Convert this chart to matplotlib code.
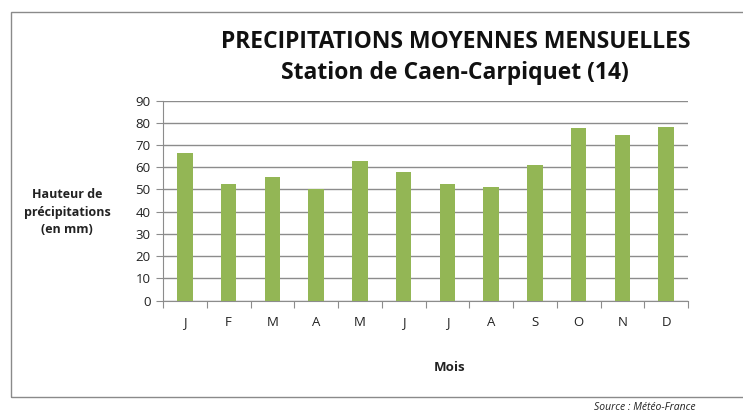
import numpy as np
import matplotlib
matplotlib.use('Agg')
import matplotlib.pyplot as plt
from matplotlib.patches import Rectangle

# monthly mean precipitation, Caen-Carpiquet (mm)
mois = ['J', 'F', 'M', 'A', 'M', 'J', 'J', 'A', 'S', 'O', 'N', 'D']
hauteur = [66.2, 52.3, 55.4, 50.3, 62.7, 57.8, 52.4, 51.1, 60.8, 77.5, 74.7, 78.3]
y_ticks = list(range(0, 100, 10))

W, H = 743, 415
plt.rcParams['font.family'] = ['Open Sans', 'DejaVu Sans']

fig = plt.figure(figsize=(W / 100, H / 100), dpi=100)

def px(x0, y0, x1, y1):
    # pixel box (top-left origin) -> figure fraction
    return [x0 / W, 1 - y1 / H, (x1 - x0) / W, (y1 - y0) / H]

# outer chart frame (right edge runs off the picture)
fig.patches.append(Rectangle((11 / W, 1 - 397 / H), (760 - 11) / W, (397 - 12) / H,
                             transform=fig.transFigure, fill=False,
                             edgecolor='#8a8a8a', linewidth=1.0))

ax = fig.add_axes(px(163, 100.5, 688, 300.5))
x = np.arange(len(mois))
ax.bar(x, hauteur, width=0.35, color='#93b655', zorder=3)

ax.set_xlim(-0.5, len(mois) - 0.5)
ax.set_ylim(0, 90)
ax.set_yticks(y_ticks)
ax.yaxis.grid(True, color='#8c8c8c', linewidth=1.0, zorder=0)
ax.set_axisbelow(True)

for s in ['top', 'right']:
    ax.spines[s].set_visible(False)
ax.spines['left'].set_color('#8c8c8c')
ax.spines['bottom'].set_color('#8c8c8c')

# ticks on category boundaries, labels centered
ax.set_xticks(np.arange(-0.5, len(mois), 1.0))
ax.set_xticklabels([])
ax.set_xticks(x, minor=True)
ax.set_xticklabels(mois, minor=True, fontsize=9.5, color='#222222')
ax.tick_params(axis='x', which='major', length=5, color='#8c8c8c')
ax.tick_params(axis='x', which='minor', length=0, pad=11)
ax.tick_params(axis='y', length=5, color='#8c8c8c', labelsize=9.5, labelcolor='#222222', pad=4)

fig.text(456 / W, 1 - 42 / H, 'PRECIPITATIONS MOYENNES MENSUELLES', ha='center', va='center',
         fontsize=16.5, fontweight='bold', color='#111111')
fig.text(455 / W, 1 - 73 / H, 'Station de Caen-Carpiquet (14)', ha='center', va='center',
         fontsize=16.5, fontweight='bold', color='#111111')

fig.text(67 / W, 1 - 212 / H, 'Hauteur de\nprécipitations\n(en mm)', ha='center', va='center',
         fontsize=9, fontweight='bold', linespacing=1.45, color='#222222')
fig.text(450 / W, 1 - 367 / H, 'Mois', ha='center', va='center',
         fontsize=9.5, fontweight='bold', color='#222222')
fig.text(695 / W, 1 - 407 / H, 'Source : Météo-France', ha='right', va='center',
         fontsize=7.5, style='italic', color='#222222')

fig.savefig('out.png', dpi=100)
